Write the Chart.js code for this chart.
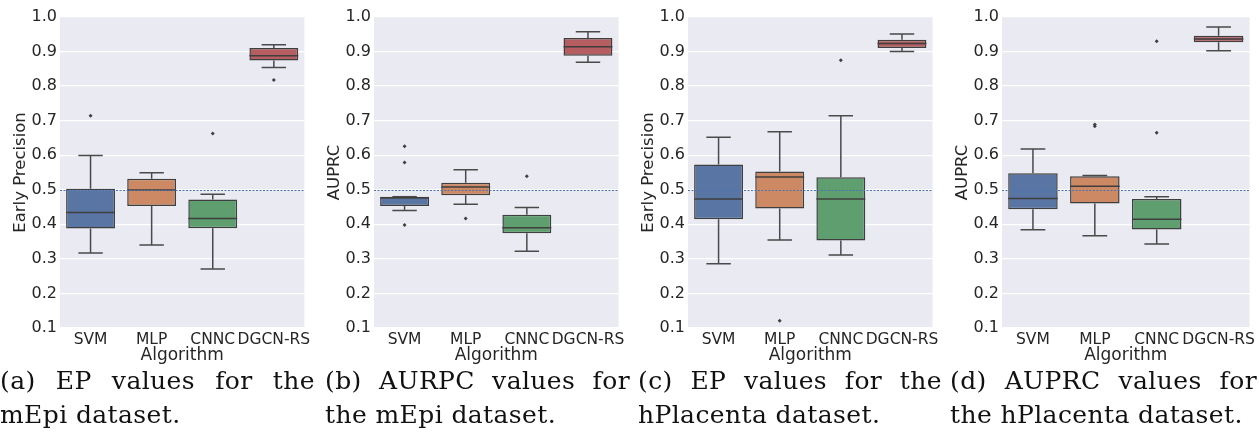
<!DOCTYPE html>
<html>
<head>
<meta charset="utf-8">
<script src="https://cdn.jsdelivr.net/npm/chart.js@4"></script>
<style>
  body { margin: 0; background: #fff; width: 1259px; height: 434px; position: relative; overflow: hidden; }
  .panel { position: absolute; top: 0; }
  .caption { position: absolute; top: 364px; font-family: "DejaVu Serif", serif; font-size: 25px; line-height: 34px; letter-spacing: 0.4px; color: #111; }
  .caption .l1 { text-align: justify; text-align-last: justify; white-space: nowrap; }
  .caption .l2 { white-space: nowrap; }
</style>
</head>
<body>
<canvas id="chart-a" class="panel" style="left:0px" width="314" height="366"></canvas>
<canvas id="chart-b" class="panel" style="left:314px" width="314" height="366"></canvas>
<canvas id="chart-c" class="panel" style="left:628px" width="314" height="366"></canvas>
<canvas id="chart-d" class="panel" style="left:942px" width="317" height="366"></canvas>

<div class="caption" style="left:0px;width:315px"><div class="l1">(a) EP values for the</div><div class="l2">mEpi dataset.</div></div>
<div class="caption" style="left:325px;width:305px"><div class="l1">(b) AURPC values for</div><div class="l2">the mEpi dataset.</div></div>
<div class="caption" style="left:638px;width:304px"><div class="l1">(c) EP values for the</div><div class="l2">hPlacenta dataset.</div></div>
<div class="caption" style="left:950px;width:307px"><div class="l1">(d) AUPRC values for</div><div class="l2">the hPlacenta dataset.</div></div>

<script>
// Box plot values
const algorithms = ['SVM', 'MLP', 'CNNC', 'DGCN-RS'];
const yTicks = [0.1, 0.2, 0.3, 0.4, 0.5, 0.6, 0.7, 0.8, 0.9, 1.0];
const baseline = 0.5;

// (a) EP, mEpi
const mepiEpLow = [0.317, 0.340, 0.271, 0.854];
const mepiEpQ1 = [0.388, 0.453, 0.389, 0.874];
const mepiEpMed = [0.434, 0.499, 0.417, 0.888];
const mepiEpQ3 = [0.503, 0.532, 0.472, 0.910];
const mepiEpHigh = [0.599, 0.549, 0.487, 0.920];
const mepiEpOutliers = [[0.714], [], [0.663], [0.818]];

// (b) AUPRC, mEpi
const mepiPrLow = [0.440, 0.458, 0.322, 0.869];
const mepiPrQ1 = [0.453, 0.484, 0.374, 0.888];
const mepiPrMed = [0.476, 0.508, 0.390, 0.914];
const mepiPrQ3 = [0.480, 0.520, 0.428, 0.939];
const mepiPrHigh = [0.480, 0.558, 0.449, 0.957];
const mepiPrOutliers = [[0.626, 0.579, 0.398], [0.417], [0.539], []];

// (c) EP, hPlacenta
const placEpLow = [0.286, 0.355, 0.311, 0.900];
const placEpQ1 = [0.415, 0.446, 0.353, 0.910];
const placEpMed = [0.473, 0.537, 0.473, 0.923];
const placEpQ3 = [0.573, 0.553, 0.536, 0.934];
const placEpHigh = [0.652, 0.668, 0.714, 0.951];
const placEpOutliers = [[], [0.121], [0.875], []];

// (d) AUPRC, hPlacenta
const placPrLow = [0.384, 0.367, 0.343, 0.902];
const placPrQ1 = [0.444, 0.460, 0.385, 0.927];
const placPrMed = [0.475, 0.510, 0.415, 0.936];
const placPrQ3 = [0.548, 0.539, 0.473, 0.946];
const placPrHigh = [0.618, 0.541, 0.480, 0.971];
const placPrOutliers = [[], [0.689, 0.684], [0.930, 0.665], []];

const boxColors = ['#5875a4', '#cc8963', '#5f9e6e', '#b55d60'];
const lineGray = '#3f3f3f';
const textColor = '#262626';

// Plot background
const backgroundPlugin = {
    id: 'plotBackground',
    beforeDraw(chart) {
        const { ctx, chartArea } = chart;
        ctx.save();
        ctx.fillStyle = '#eaeaf2';
        ctx.fillRect(chartArea.left, chartArea.top, chartArea.width, chartArea.height);
        ctx.restore();
    }
};

// Whiskers, caps, medians and the 0.5 reference line
const boxPlugin = {
    id: 'boxWhiskers',
    beforeDatasetsDraw(chart) {
        const stats = chart.options.plugins.boxWhiskers;
        const { ctx } = chart;
        const y = chart.scales.y;
        const bars = chart.getDatasetMeta(0).data;
        ctx.save();
        ctx.strokeStyle = '#4a4a4a';
        ctx.lineWidth = 1.5;
        bars.forEach((bar, i) => {
            const cx = bar.x;
            const half = bar.width / 4;
            const pairs = [[stats.q3[i], stats.high[i]], [stats.q1[i], stats.low[i]]];
            pairs.forEach(([from, to]) => {
                ctx.beginPath();
                ctx.moveTo(cx, y.getPixelForValue(from));
                ctx.lineTo(cx, y.getPixelForValue(to));
                ctx.moveTo(cx - half, y.getPixelForValue(to));
                ctx.lineTo(cx + half, y.getPixelForValue(to));
                ctx.stroke();
            });
        });
        ctx.restore();
    },
    afterDatasetsDraw(chart) {
        const stats = chart.options.plugins.boxWhiskers;
        const { ctx, chartArea } = chart;
        const y = chart.scales.y;
        const bars = chart.getDatasetMeta(0).data;
        ctx.save();
        ctx.strokeStyle = lineGray;
        ctx.lineWidth = 1.5;
        bars.forEach((bar, i) => {
            const py = y.getPixelForValue(stats.med[i]);
            ctx.beginPath();
            ctx.moveTo(bar.x - bar.width / 2, py);
            ctx.lineTo(bar.x + bar.width / 2, py);
            ctx.stroke();
        });
        const by = Math.round(y.getPixelForValue(baseline)) + 0.5;
        ctx.strokeStyle = '#4c72b0';
        ctx.lineWidth = 1;
        ctx.setLineDash([2, 1.5]);
        ctx.beginPath();
        ctx.moveTo(chartArea.left, by);
        ctx.lineTo(chartArea.right, by);
        ctx.stroke();
        ctx.restore();
    }
};

function outlierDatasets(outliers) {
    const maxCount = Math.max(...outliers.map(o => o.length));
    const sets = [];
    for (let k = 0; k < maxCount; k++) {
        sets.push({
            type: 'line',
            data: outliers.map(o => (o[k] === undefined ? null : o[k])),
            showLine: false,
            pointStyle: 'rectRot',
            pointRadius: 2,
            pointBackgroundColor: lineGray,
            pointBorderColor: lineGray,
            pointBorderWidth: 0
        });
    }
    return sets;
}

function makeBoxChart(id, yTitle, low, q1, med, q3, high, outliers, rightPad) {
    const ctx = document.getElementById(id).getContext('2d');
    return new Chart(ctx, {
        type: 'bar',
        data: {
            labels: algorithms,
            datasets: [{
                data: algorithms.map((_, i) => [q1[i], q3[i]]),
                backgroundColor: boxColors,
                borderColor: lineGray,
                borderWidth: 1.5,
                borderSkipped: false,
                barPercentage: 0.8,
                categoryPercentage: 1.0
            }, ...outlierDatasets(outliers)]
        },
        options: {
            responsive: false,
            animation: false,
            layout: { padding: { left: 0, right: rightPad, top: 17, bottom: 0 } },
            plugins: {
                legend: { display: false },
                tooltip: { enabled: false },
                boxWhiskers: { low: low, q1: q1, med: med, q3: q3, high: high }
            },
            scales: {
                x: {
                    grid: { display: false, drawTicks: false },
                    border: { display: false },
                    ticks: {
                        color: textColor,
                        font: { family: 'DejaVu Sans', size: 15.5 },
                        padding: 3,
                        maxRotation: 0,
                        autoSkip: false
                    },
                    title: {
                        display: true,
                        text: 'Algorithm',
                        color: textColor,
                        font: { family: 'DejaVu Sans', size: 17 },
                        padding: { top: 0, bottom: 0 }
                    },
                    afterFit(scale) { scale.height = 38; }
                },
                y: {
                    min: 0.1,
                    max: 1.0,
                    afterBuildTicks(scale) {
                        scale.ticks = yTicks.map(v => ({ value: v }));
                    },
                    grid: { color: '#ffffff', lineWidth: 1.3, drawTicks: false },
                    border: { display: false },
                    ticks: {
                        color: textColor,
                        font: { family: 'DejaVu Sans', size: 16 },
                        padding: 3,
                        callback: v => Number(v).toFixed(1)
                    },
                    title: {
                        display: true,
                        text: yTitle,
                        color: textColor,
                        font: { family: 'DejaVu Sans', size: 16.5 },
                        padding: { top: 11, bottom: 0 }
                    },
                    afterFit(scale) { scale.width = 60; }
                }
            }
        },
        plugins: [backgroundPlugin, boxPlugin]
    });
}

makeBoxChart('chart-a', 'Early Precision', mepiEpLow, mepiEpQ1, mepiEpMed, mepiEpQ3, mepiEpHigh, mepiEpOutliers, 7);
makeBoxChart('chart-b', 'AUPRC', mepiPrLow, mepiPrQ1, mepiPrMed, mepiPrQ3, mepiPrHigh, mepiPrOutliers, 6);
makeBoxChart('chart-c', 'Early Precision', placEpLow, placEpQ1, placEpMed, placEpQ3, placEpHigh, placEpOutliers, 6);
makeBoxChart('chart-d', 'AUPRC', placPrLow, placPrQ1, placPrMed, placPrQ3, placPrHigh, placPrOutliers, 9);
</script>
</body>
</html>
